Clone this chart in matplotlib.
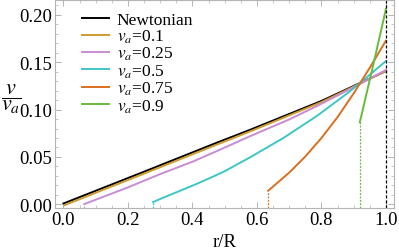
import matplotlib
matplotlib.use("Agg")
import matplotlib.pyplot as plt
from matplotlib.ticker import MultipleLocator

plt.rcParams['font.family'] = ['Liberation Serif', 'DejaVu Serif']
plt.rcParams['mathtext.fontset'] = 'stix'

# curves (r/R, v/v_a)
newt_x = [0.0, 0.25, 0.479, 0.578, 0.8, 1.0]
newt_y = [0.001, 0.0345, 0.0655, 0.0785, 0.109, 0.1405]

va01_x = [0.003, 0.25, 0.479, 0.578, 0.8, 1.0]
va01_y = [-0.0008, 0.0325, 0.0635, 0.0768, 0.1078, 0.1405]

va025_x = [0.065, 0.1, 0.2, 0.3, 0.4, 0.479, 0.578, 0.7, 0.785, 0.9, 1.0]
va025_y = [0.0005, 0.005, 0.018, 0.032, 0.045, 0.0567, 0.0718, 0.0895, 0.1035, 0.1235, 0.1416]

va05_x = [0.278, 0.30, 0.35, 0.40, 0.45, 0.50, 0.578, 0.682, 0.785, 0.888, 1.0]
va05_y = [0.0025, 0.0058, 0.0128, 0.0198, 0.0272, 0.035, 0.0495, 0.07, 0.093, 0.119, 0.151]

va075_x = [0.635, 0.70, 0.75, 0.80, 0.85, 0.90, 0.95, 1.0]
va075_y = [0.0145, 0.0335, 0.0505, 0.07, 0.092, 0.117, 0.144, 0.1725]

va09_x = [0.919, 0.96, 1.0]
va09_y = [0.0865, 0.146, 0.2058]

labels = ["Newtonian", "$v_a$=0.1", "$v_a$=0.25", "$v_a$=0.5", "$v_a$=0.75", "$v_a$=0.9"]
colors = ["black", "#D09A2C", "#C98BD3", "#3EC6C6", "#DA6E1F", "#66BC3A"]

xs = [newt_x, va01_x, va025_x, va05_x, va075_x, va09_x]
ys = [newt_y, va01_y, va025_y, va05_y, va075_y, va09_y]

fig = plt.figure(figsize=(3.99, 2.51), dpi=100)
ax = fig.add_axes([55/399, 1-209/251, 339/399, 208/251])

ymin, ymax = -0.0037, 0.2153

for i in range(len(xs)):
    ax.plot(xs[i], ys[i], color=colors[i], lw=1.4, label=labels[i])
    if i >= 2:
        # dashed drop from start of curve to bottom
        ax.plot([xs[i][0], xs[i][0]], [ymin, ys[i][0]], color=colors[i], lw=0.9, ls=(0, (1.5, 1.2)))

ax.axvline(1.0, color="black", lw=0.9, ls=(0, (2.5, 1.5)))

ax.set_xlim(-0.026, 1.025)
ax.set_ylim(ymin, ymax)

ax.xaxis.set_major_locator(MultipleLocator(0.2))
ax.xaxis.set_minor_locator(MultipleLocator(0.05))
ax.yaxis.set_major_locator(MultipleLocator(0.05))
ax.yaxis.set_minor_locator(MultipleLocator(0.01))
ax.xaxis.set_major_formatter(plt.FuncFormatter(lambda v, p: "%.1f" % v))
ax.yaxis.set_major_formatter(plt.FuncFormatter(lambda v, p: "%.2f" % v))

for s in ax.spines.values():
    s.set_color("#b4b4b4")
    s.set_linewidth(0.8)
ax.tick_params(which="both", direction="in", top=True, right=True, color="#b4b4b4", labelsize=13.5, pad=2)
ax.tick_params(which="major", length=4, width=0.7)
ax.tick_params(which="minor", length=2, width=0.5)

ax.set_xlabel("r/R", fontsize=13.5, labelpad=4)
fig.text(11/399, 1-99/251, r"$\dfrac{v}{v_a}$", fontsize=16, ha="center", va="center")

ax.legend(loc="upper left", bbox_to_anchor=(0.08, 0.945), frameon=False, fontsize=12.5,
          handlelength=1.55, handletextpad=0.45, labelspacing=0.0, borderaxespad=0.0,
          borderpad=0.0)

fig.savefig("out.png", dpi=100)
